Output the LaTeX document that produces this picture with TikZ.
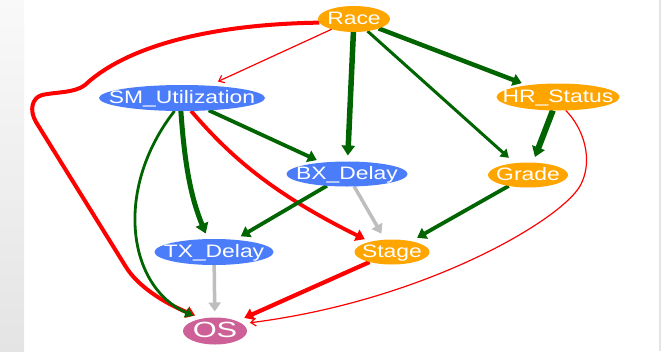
\documentclass[tikz,border=0pt]{standalone}
\usepackage{fontspec}
\newfontfamily\nf[FakeStretch=1.27]{Liberation Sans}
\newfontfamily\osf[FakeStretch=1.4]{Liberation Sans}
\usetikzlibrary{shapes.geometric,arrows.meta}
\pgfdeclarelayer{back}
\pgfdeclarelayer{bg}
\pgfsetlayers{back,bg,main}
\definecolor{nodeorange}{RGB}{255,165,0}
\definecolor{nodeblue}{RGB}{75,125,250}
\definecolor{nodepink}{RGB}{205,96,150}
\definecolor{edgegreen}{RGB}{0,100,0}
\definecolor{edgered}{RGB}{255,0,0}
\definecolor{edgegray}{RGB}{190,190,190}
\definecolor{striptop}{RGB}{249,249,249}
\definecolor{stripbot}{RGB}{228,228,228}
\newcommand\nodetext[1]{\makebox[0pt]{#1}}
\begin{document}
\begin{tikzpicture}[x=1pt,y=-1pt,
  nd/.style={ellipse, inner sep=0pt, outer sep=0pt, text=white,
    font={\nf\fontsize{18pt}{18pt}\selectfont}, text height=10pt, text depth=0pt},
  edge/.style={shorten >=6pt},
  big/.style={-{Triangle[length=10pt,width=13pt]}},
  mid/.style={-{Triangle[length=9pt,width=12pt]}},
  small/.style={-{Triangle[length=8pt,width=10pt]}},
  thin/.style={-{Straight Barb[length=5pt,width=8pt]}},
  ge/.style={edge, draw=edgegreen, line width=#1},
  re/.style={edge, draw=edgered, line width=#1},
  gr/.style={edge, draw=edgegray, line width=#1},
  toos/.style={shorten >=8pt}
]
\useasboundingbox (0,0) rectangle (661,351);
\begin{pgfonlayer}{back}
\fill[white] (0,0) rectangle (661,351);
\shade[top color=striptop, bottom color=stripbot] (0,0) rectangle (24,351);
\fill[stripbot] (659,0) rectangle (661,351);
\end{pgfonlayer}

\node[nd, fill=nodeorange, minimum width=72pt, minimum height=26pt] (Race) at (354,19) {\nodetext{Race}};
\node[nd, fill=nodeblue, minimum width=166pt, minimum height=26pt] (SM) at (182,98) {\nodetext{SM\_Utilization}};
\node[nd, fill=nodeorange, minimum width=123pt, minimum height=27pt] (HR) at (558,97) {\nodetext{HR\_Status}};
\node[nd, fill=nodeblue, minimum width=121pt, minimum height=25pt] (BX) at (347,174) {\nodetext{BX\_Delay}};
\node[nd, fill=nodeorange, minimum width=80pt, minimum height=25pt] (Grade) at (528,175) {\nodetext{Grade}};
\node[nd, fill=nodeblue, minimum width=119pt, minimum height=26pt] (TX) at (214,252) {\nodetext{TX\_Delay}};
\node[nd, fill=nodeorange, minimum width=75pt, minimum height=25pt] (Stage) at (392,252) {\nodetext{Stage}};
\node[nd, fill=nodepink, minimum width=64pt, minimum height=27pt,
  font={\osf\fontsize{22pt}{22pt}\selectfont}, text height=12pt] (OS) at (215,331) {\nodetext{OS}};

\begin{pgfonlayer}{bg}
% from Race
\draw[re=4pt, mid, toos] (Race.186) .. controls (220,24) and (130,43) .. (85,85)
  .. controls (75,93) and (55,92) .. (42,95)
  .. controls (32,98) and (29,110) .. (36,122)
  -- (126,267) .. controls (137,285) and (162,302) .. (OS.135);
\draw[re=1.2pt, thin, shorten >=10pt] (Race) -- (SM);
\draw[ge=5.5pt, big] (Race) -- (BX);
\draw[ge=3pt, small, shorten >=8pt] (Race) -- (Grade);
\draw[ge=4.5pt, mid] (Race) -- (HR);
% from SM_Utilization
\draw[ge=3.8pt, mid] (SM) -- (BX);
\draw[ge=5pt, big] (SM.265) .. controls (185,170) and (192,200) .. (TX.115);
\draw[ge=2.8pt, small, toos] (SM.240) .. controls (113,190) and (128,287) .. (OS.140);
\draw[re=3.8pt, mid] (SM.305) .. controls (225,150) and (265,190) .. (Stage.155);
% from BX_Delay
\draw[ge=3.8pt, mid, shorten >=7pt] (BX) -- (TX);
\draw[gr=3.5pt, mid, shorten >=7pt] (BX) -- (Stage);
% from HR_Status
\draw[ge=6pt, big] (HR) -- (Grade);
\draw[re=1.2pt, thin, toos] (HR.300) .. controls (585,130) and (592,160) .. (582,182)
  .. controls (570,215) and (430,300) .. (OS.15);
% from Grade
\draw[ge=3.8pt, mid, shorten >=7pt] (Grade) -- (Stage);
% into OS
\draw[gr=3.5pt, mid] (TX) -- (OS);
\draw[re=4.2pt, mid, toos] (Stage) -- (OS);
\end{pgfonlayer}
\end{tikzpicture}
\end{document}
